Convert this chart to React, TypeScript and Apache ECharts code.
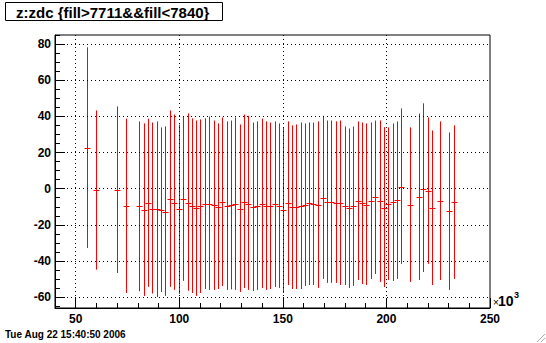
import React, { useEffect, useRef } from "react";
import * as echarts from "echarts";

// bin centres (x, in units of 10^3)
const xs = [
  55.6, 59.9, 70.1, 74.4, 80.7, 83.1, 85.0, 87.0, 89.4, 91.3, 93.3, 95.7, 97.6, 100.0, 101.9, 104.0,
  106.3, 108.2, 110.1, 112.6, 114.4, 116.9, 118.8, 120.8, 123.0, 125.1, 127.0, 129.5, 131.4, 133.3,
  135.7, 137.7, 140.1, 142.0, 143.9, 146.4, 148.3, 150.2, 152.6, 154.6, 156.5, 158.9, 160.8, 162.8,
  164.7, 167.1, 169.5, 171.4, 173.4, 175.8, 177.7, 180.1, 182.1, 184.0, 186.4, 188.3, 190.3, 192.7,
  194.6, 197.0, 199.0, 200.9, 203.3, 205.2, 207.2, 211.5, 215.8, 217.8, 220.2, 222.1, 226.1, 230.3,
  232.7,
];
// profile mean
const means = [
  22.6, -0.6, -0.6, -9.4, -9.4, -11.6, -7.7, -11.0, -11.0, -11.6, -12.7, -5.5, -7.7, -11.0, -5.5, -7.7,
  -9.4, -10.5, -9.4, -8.3, -8.3, -8.9, -10.0, -7.2, -9.4, -8.9, -8.3, -11.1, -7.2, -8.3,
  -10.0, -9.4, -8.3, -9.4, -9.4, -8.3, -9.4, -11.6, -7.8, -10.0, -10.0, -9.4, -8.9, -7.8,
  -8.3, -8.9, -5.0, -7.2, -7.2, -7.8, -7.8, -9.4, -10.5, -9.4, -6.6, -7.8, -8.9, -6.6,
  -4.4, -6.6, -10.5, -8.3, -7.2, -6.1, 1.1, -8.9, -4.4, 0.0, -1.1, -10.5, -6.6, -12.2,
  -7.2,
];
// lower end of error bar
const lows = [
  -32.8, -44.8, -46.6, -57.7, -56.7, -59.3, -54.3, -58.0, -59.9, -57.1, -59.3, -54.3, -56.0, -58.3, -51.0, -56.5,
  -57.7, -59.3, -57.7, -55.5, -56.0, -56.0, -55.5, -53.8, -56.0, -55.7, -56.0, -57.1, -54.9, -56.0,
  -56.6, -56.0, -54.9, -56.0, -55.5, -54.4, -54.9, -57.7, -53.3, -55.5, -55.5, -55.5, -53.8, -53.3,
  -53.3, -54.9, -49.9, -52.1, -52.1, -52.1, -53.3, -53.3, -54.9, -53.8, -50.5, -52.7, -53.3, -49.9,
  -47.2, -51.6, -54.4, -50.5, -51.1, -49.9, -41.6, -51.6, -50.5, -46.1, -41.6, -53.3, -50.5, -56.0,
  -49.9,
];
// upper end of error bar
const highs = [
  78.2, 43.3, 45.5, 38.7, 37.2, 36.1, 38.7, 36.6, 37.2, 33.9, 34.4, 43.3, 41.0, 35.5, 39.9, 41.6,
  38.9, 37.7, 38.3, 38.9, 39.9, 37.7, 36.1, 39.4, 37.2, 37.7, 39.4, 35.5, 41.0, 40.3,
  36.6, 37.2, 38.8, 37.2, 36.6, 37.2, 36.1, 33.9, 37.2, 35.0, 35.5, 36.6, 36.1, 36.6,
  36.6, 37.2, 40.3, 37.7, 37.7, 37.2, 37.7, 34.4, 33.3, 34.4, 37.2, 36.6, 36.1, 36.6,
  37.7, 37.7, 34.0, 33.9, 36.1, 37.2, 44.4, 33.9, 41.6, 47.2, 39.4, 32.2, 37.2, 31.1,
  35.0,
];

const xMajorTicks = [50, 100, 150, 200, 250];
const xMinorTicks = [40, 50, 60, 70, 80, 90, 100, 110, 120, 130, 140, 150, 160, 170, 180, 190, 200, 210, 220, 230, 240, 250];
const yMajorTicks = [-60, -40, -20, 0, 20, 40, 60, 80];
const yMinorTicks = [-65, -60, -55, -50, -45, -40, -35, -30, -25, -20, -15, -10, -5, 0, 5, 10, 15, 20, 25, 30, 35, 40, 45, 50, 55, 60, 65, 70, 75, 80, 85];
const xGridLines = [50, 100, 150, 200];
const yGridLines = [-60, -40, -20, 0, 20, 40, 60, 80];

const titleText = "z:zdc {fill>7711&&fill<7840}";
const dateText = "Tue Aug 22 15:40:50 2006";

const X_MIN = 40;
const X_MAX = 250;
const Y_MIN = -66;
const Y_MAX = 85;

export default function App() {
  const ref = useRef<HTMLDivElement>(null);

  useEffect(() => {
    if (!ref.current) return;
    const chart = echarts.init(ref.current, null, { renderer: "svg" });
    const data = xs.map((x, i) => [x, means[i], lows[i], highs[i]]);
    const font = "Liberation Sans, Arial, Helvetica, sans-serif";

    const xAxisBase = {
      type: "value",
      min: X_MIN,
      max: X_MAX,
      gridIndex: 0,
      position: "bottom",
      splitLine: { show: false },
    };
    const yAxisBase = {
      type: "value",
      min: Y_MIN,
      max: Y_MAX,
      gridIndex: 0,
      position: "left",
      splitLine: { show: false },
    };

    chart.setOption({
      animation: false,
      backgroundColor: "#ffffff",
      grid: {
        left: 55,
        right: 56,
        top: 35,
        bottom: 35,
        show: true,
        borderColor: "#000",
        borderWidth: 1,
        backgroundColor: "transparent",
      },
      xAxis: [
        {
          ...xAxisBase,
          axisLine: { show: true, onZero: false, lineStyle: { color: "#000", width: 1 } },
          axisTick: { show: true, inside: true, length: 5, customValues: xMinorTicks, lineStyle: { color: "#000" } },
          axisLabel: { show: false },
        },
        {
          ...xAxisBase,
          axisLine: { show: false, onZero: false },
          axisTick: { show: true, inside: true, length: 10, customValues: xMajorTicks, lineStyle: { color: "#000" } },
          axisLabel: {
            show: true,
            customValues: xMajorTicks,
            margin: 5,
            color: "#000",
            fontFamily: font,
            fontWeight: "bold",
            fontSize: 12,
          },
        },
      ],
      yAxis: [
        {
          ...yAxisBase,
          axisLine: { show: true, onZero: false, lineStyle: { color: "#000", width: 1 } },
          axisTick: { show: true, inside: true, length: 5, customValues: yMinorTicks, lineStyle: { color: "#000" } },
          axisLabel: { show: false },
        },
        {
          ...yAxisBase,
          axisLine: { show: false, onZero: false },
          axisTick: { show: true, inside: true, length: 10, customValues: yMajorTicks, lineStyle: { color: "#000" } },
          axisLabel: {
            show: true,
            customValues: yMajorTicks,
            margin: 4,
            color: "#000",
            fontFamily: font,
            fontWeight: "bold",
            fontSize: 12,
          },
        },
      ],
      series: [
        {
          type: "scatter",
          xAxisIndex: 0,
          yAxisIndex: 0,
          data: [],
          z: 1,
          silent: true,
          markLine: {
            silent: true,
            symbol: "none",
            label: { show: false },
            lineStyle: { color: "#000", type: [1, 3], width: 1 },
            data: [
              ...yGridLines.map((v) => ({ yAxis: v })),
              ...xGridLines.map((v) => ({ xAxis: v })),
            ],
          },
        },
        {
          type: "custom",
          xAxisIndex: 0,
          yAxisIndex: 0,
          z: 3,
          silent: true,
          data,
          renderItem: (params: any, api: any) => {
            const x = api.value(0);
            const m = api.value(1);
            const lo = api.value(2);
            const hi = api.value(3);
            const pTop = api.coord([x, hi]);
            const pBot = api.coord([x, lo]);
            const pM = api.coord([x, m]);
            const px = Math.round(pTop[0]) + 0.5;
            const my = Math.round(pM[1]) + 0.5;
            return {
              type: "group",
              children: [
                {
                  type: "line",
                  shape: { x1: px, y1: pTop[1], x2: px, y2: pBot[1] },
                  style: { stroke: "#ff0000", lineWidth: 1 },
                },
                {
                  type: "line",
                  shape: { x1: px - 3, y1: my, x2: px + 3, y2: my },
                  style: { stroke: "#ff0000", lineWidth: 1 },
                },
              ],
            };
          },
        },
      ],
      graphic: [
        {
          type: "rect",
          shape: { x: 5.5, y: 2.5, width: 217, height: 18 },
          style: { fill: "#fff", stroke: "#000", lineWidth: 1 },
          z: 10,
        },
        {
          type: "text",
          x: 16,
          y: 12,
          style: {
            text: titleText,
            fontFamily: font,
            fontWeight: "bold",
            fontSize: 15,
            fill: "#000",
            verticalAlign: "middle",
          },
          z: 11,
        },
        {
          type: "text",
          x: 493,
          y: 307,
          style: { text: "×", fontFamily: font, fontSize: 10, fill: "#000", verticalAlign: "bottom" },
        },
        {
          type: "text",
          x: 498,
          y: 308,
          style: { text: "10", fontFamily: font, fontWeight: "bold", fontSize: 14, fill: "#000", verticalAlign: "bottom" },
        },
        {
          type: "text",
          x: 514,
          y: 299,
          style: { text: "3", fontFamily: font, fontWeight: "bold", fontSize: 9, fill: "#000", verticalAlign: "bottom" },
        },
        {
          type: "text",
          x: 5,
          y: 334,
          style: { text: dateText, fontFamily: font, fontSize: 10, fontWeight: "bold", fill: "#000", verticalAlign: "middle" },
        },
        {
          type: "line",
          shape: { x1: 537, y1: 342, x2: 545, y2: 334 },
          style: { stroke: "#aaa", lineWidth: 1 },
        },
        {
          type: "line",
          shape: { x1: 541, y1: 342, x2: 545, y2: 338 },
          style: { stroke: "#aaa", lineWidth: 1 },
        },
      ],
    });

    return () => chart.dispose();
  }, []);

  return (
    <div
      ref={ref}
      style={{ position: "fixed", left: 0, top: 0, width: 546, height: 343, background: "#fff" }}
    />
  );
}
